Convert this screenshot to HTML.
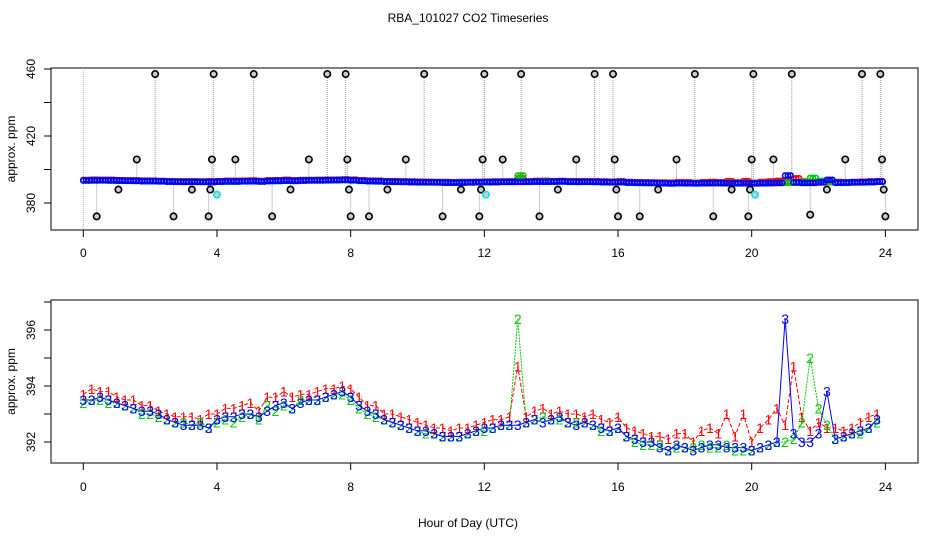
<!DOCTYPE html>
<html><head><meta charset="utf-8"><style>
html,body{margin:0;padding:0;background:#fff;}
svg{display:block;font-family:"Liberation Sans",sans-serif;}
</style></head><body>
<svg id="chart" width="936" height="540" viewBox="0 0 936 540" xmlns="http://www.w3.org/2000/svg">
<rect width="936" height="540" fill="#fff"/>
<text x="468" y="22" font-size="12" text-anchor="middle">RBA_101027  CO2 Timeseries</text>
<text x="468" y="527" font-size="12" text-anchor="middle">Hour of Day (UTC)</text>
<g id="top"></g>
<g id="bot"></g>
</svg>
<script>
const xTicks=[0,4,8,12,16,20,24];
const topYTicks=[380,400,420,440,460];
const topYLabels=[380,420,460];
const botYTicks=[392,393,394,395,396,397];
const botYLabels=[392,394,396];
const hours=[];for(let i=0;i<96;i++)hours.push(i/4);
const s1=[393.7,393.9,393.8,393.8,393.6,393.5,393.5,393.3,393.3,393.1,393.0,392.9,392.9,392.9,392.8,393.0,
393.0,393.2,393.2,393.3,393.4,393.1,393.6,393.6,393.8,393.6,393.7,393.7,393.8,393.9,393.9,394.0,
393.9,393.6,393.3,393.3,393.0,393.0,392.9,392.8,392.7,392.6,392.5,392.5,392.4,392.5,392.5,392.6,
392.7,392.8,392.8,392.9,394.7,392.9,393.1,393.2,393.0,393.1,393.0,393.0,392.9,393.0,392.8,392.7,
392.9,392.5,392.4,392.3,392.2,392.2,392.1,392.3,392.3,392.0,392.4,392.5,392.3,393.0,392.2,393.0,
392.0,392.5,392.8,393.2,392.6,394.7,392.9,392.4,392.7,392.5,392.5,392.4,392.5,392.7,392.9,393.0];
const s2=[393.4,393.5,393.5,393.4,393.4,393.3,393.2,393.0,393.0,392.9,392.8,392.7,392.7,392.6,392.7,392.5,
392.7,392.8,392.7,392.9,393.0,392.8,393.3,393.1,393.3,393.2,393.5,393.5,393.5,393.6,393.7,393.7,
393.5,393.2,393.0,392.9,392.8,392.7,392.6,392.5,392.4,392.3,392.3,392.2,392.2,392.2,392.3,392.4,
392.4,392.5,392.6,392.6,396.4,392.7,392.8,392.9,392.8,392.8,392.7,392.7,392.7,392.6,392.4,392.4,
392.5,392.2,392.0,391.9,391.9,391.9,391.7,391.8,391.8,391.8,391.9,391.8,391.8,391.9,391.7,391.7,
391.7,391.8,391.9,392.0,392.0,392.1,392.7,395.0,393.2,392.6,392.1,392.2,392.3,392.3,392.5,392.7];
const s3=[393.5,393.5,393.6,393.5,393.4,393.3,393.2,393.1,393.1,393.0,392.8,392.7,392.6,392.6,392.6,392.5,
392.8,392.9,392.9,393.0,393.0,392.9,393.1,393.3,393.4,393.2,393.4,393.5,393.5,393.6,393.7,393.8,
393.6,393.3,393.1,393.0,392.8,392.7,392.6,392.5,392.4,392.4,392.3,392.2,392.2,392.2,392.3,392.4,
392.5,392.5,392.6,392.6,392.6,392.7,392.8,392.7,392.8,392.9,392.7,392.6,392.7,392.6,392.5,392.4,
392.5,392.2,392.1,392.0,392.0,391.8,391.7,391.9,391.8,391.7,391.8,391.9,391.9,391.8,391.8,391.8,
391.7,391.8,391.9,392.0,396.4,392.3,392.0,392.0,392.3,393.8,392.1,392.2,392.3,392.4,392.5,392.8];
const outHours=[0.4,1.05,1.6,2.15,2.7,3.25,3.75,3.8,3.85,3.9,4.55,5.1,5.65,6.2,6.75,7.3,7.85,7.9,7.95,8.0,8.55,9.1,9.65,10.2,10.75,11.3,11.85,11.9,11.95,12.0,12.55,13.1,13.65,14.2,14.75,15.3,15.85,15.9,15.95,16.0,16.65,17.2,17.75,18.3,18.85,19.4,19.9,19.95,20.0,20.05,20.65,21.2,21.75,22.25,22.8,23.3,23.85,23.9,23.95,24.0];
const outVals=[372,388,406,457,372,388,372,388,406,457,406,457,372,388,406,457,457,406,388,372,372,388,406,457,372,388,372,388,406,457,406,457,372,388,406,457,457,406,388,372,372,388,406,457,372,388,372,388,406,457,406,457,373,388,406,457,457,406,388,372];
const cyanHours=[4.0,12.05,20.1];
const cyanVals=[385,385,385];

const NS="http://www.w3.org/2000/svg";
function mk(tag,attrs,parent,txt){const e=document.createElementNS(NS,tag);for(const k in attrs)e.setAttribute(k,attrs[k]);if(txt!==undefined)e.textContent=txt;parent.appendChild(e);return e;}
const xS=h=>83.3+h*33.42;
const yT=v=>203-(v-380)*1.675;
const yB=v=>442-(v-392)*28;
const cols=["#ff0000","#00cd00","#0000ff"];
const series=[s1,s2,s3];

function axes(g,top,bot,yScale,yt,yl,tickLabY,name){
  let r=mk('rect',{x:51,y:top,width:867,height:bot-top,fill:'none',stroke:'#000','stroke-width':1},g);
  
  xTicks.forEach(t=>{
    let l=mk('line',{x1:xS(t),x2:xS(t),y1:bot,y2:bot+7,stroke:'#000'},g);
    
    let tx=mk('text',{x:xS(t),y:tickLabY,'font-size':12,'text-anchor':'middle'},g,String(t));
    
  });
  yt.forEach(v=>{
    let l=mk('line',{x1:44,x2:51,y1:yScale(v),y2:yScale(v),stroke:'#000'},g);
    
  });
  yl.forEach(v=>{
    let tx=mk('text',{x:0,y:0,'font-size':12,'text-anchor':'middle',transform:`translate(35,${yScale(v)}) rotate(-90)`},g,String(v));
    
  });
  let yt2=mk('text',{x:0,y:0,'font-size':12,'text-anchor':'middle',transform:`translate(15,${(top+bot)/2}) rotate(-90)`},g,'approx. ppm');
  
}

// top panel
const gt=document.getElementById('top');
axes(gt,68,230,yT,topYTicks,topYLabels,257,'top');
const clipT=mk('clipPath',{id:'ct'},gt);mk('rect',{x:51,y:68,width:867,height:162},clipT);
const gtc=mk('g',{'clip-path':'url(#ct)'},gt);
let l0=mk('line',{x1:xS(0),x2:xS(0),y1:68,y2:230,stroke:'#aaa','stroke-dasharray':'1,1'},gtc);

outHours.forEach((h,i)=>{
  let l=mk('line',{x1:xS(h),x2:xS(h),y1:yT(outVals[i]),y2:yT(393),stroke:'#999','stroke-dasharray':'1,1'},gtc);
  
});
series.forEach((s,k)=>{
  s.forEach((v,i)=>{
    for(let j=0;j<3;j++){
      let c=mk('circle',{cx:xS(hours[i]+j*0.083),cy:yT(v),r:2.6,fill:'none',stroke:cols[k],'stroke-width':1.6},gtc);
      
    }
  });
});
outHours.forEach((h,i)=>{
  let c=mk('circle',{cx:xS(h),cy:yT(outVals[i]),r:3.2,fill:'#ccc',stroke:'#000','stroke-width':1.6},gtc);
  
});
cyanHours.forEach((h,i)=>{
  let c=mk('circle',{cx:xS(h),cy:yT(cyanVals[i]),r:3.2,fill:'#ccc',stroke:'#00e5ee','stroke-width':1.6},gtc);
  
});

// bottom panel
const gb=document.getElementById('bot');
axes(gb,300,463,yB,botYTicks,botYLabels,491,'bottom');
const clipB=mk('clipPath',{id:'cb'},gb);mk('rect',{x:51,y:300,width:867,height:163},clipB);
const gbc=mk('g',{'clip-path':'url(#cb)'},gb);
series.forEach((s,k)=>{
  const pts=s.map((v,i)=>xS(hours[i])+','+yB(v)).join(' ');
  let p=mk('polyline',{points:pts,fill:'none',stroke:cols[k],'stroke-width':1,'stroke-dasharray':k==0?'4,2':(k==1?'2,1':'none')},gbc);
  
});
series.forEach((s,k)=>{
  s.forEach((v,i)=>{
    let t=mk('text',{x:xS(hours[i]),y:yB(v)+5,'font-size':14,'text-anchor':'middle',fill:cols[k]},gbc,String(k+1));
    
  });
});
</script>
</body></html>
